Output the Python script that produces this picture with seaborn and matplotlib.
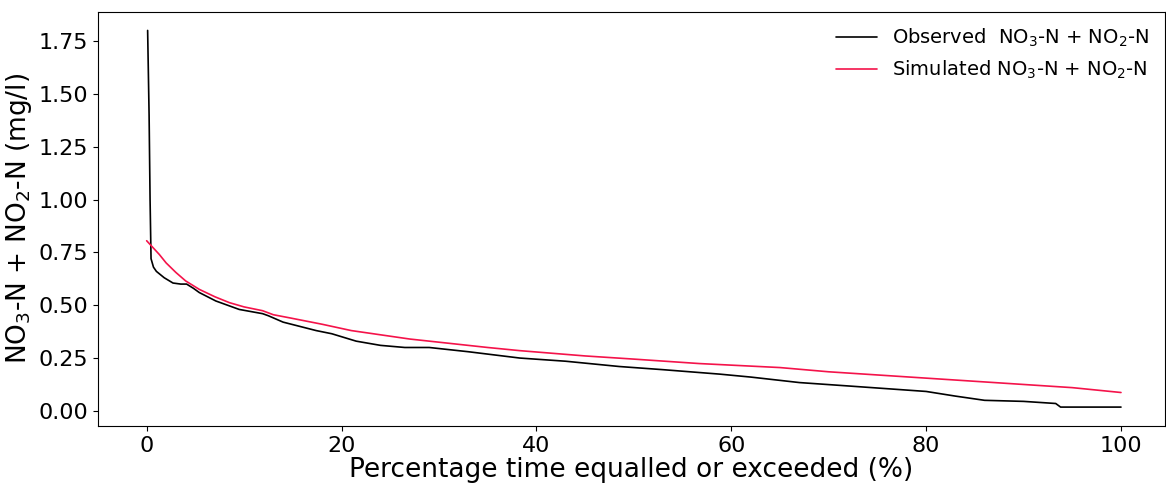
import pandas as pd
import seaborn as sns
from matplotlib import pyplot as plt

OUT_PATH = "out.png"

# flow-duration style curves
obs_pct = [0.1, 0.25, 0.35, 0.45, 0.7, 1.0, 1.8, 2.7, 3.5, 4.1, 4.8, 5.4, 7.1,
           9.5, 11.9, 12.5, 14.0, 17.4, 19.0, 21.5, 24.0, 26.5, 29.0, 33.0,
           38.3, 43.0, 48.5, 53.0, 58.8, 62.0, 67.0, 72.0, 76.0, 80.0, 83.0,
           86.0, 90.0, 93.3, 93.8, 100.0]
obs_conc = [1.80, 1.40, 1.00, 0.72, 0.68, 0.66, 0.63, 0.605, 0.60, 0.60, 0.58,
            0.56, 0.52, 0.48, 0.46, 0.45, 0.42, 0.38, 0.365, 0.33, 0.31, 0.30,
            0.30, 0.28, 0.25, 0.235, 0.21, 0.195, 0.174, 0.16, 0.134, 0.118,
            0.105, 0.092, 0.07, 0.05, 0.045, 0.035, 0.018, 0.018]

sim_pct = [0.0, 0.5, 1.3, 2.0, 3.0, 4.0, 5.4, 7.0, 8.5, 10.0, 11.9, 13.0, 14.7,
           18.0, 21.0, 24.0, 27.0, 31.0, 35.0, 38.3, 45.0, 50.0, 56.7, 65.0,
           70.0, 75.0, 80.0, 85.0, 90.0, 95.0, 100.0]
sim_conc = [0.805, 0.78, 0.74, 0.70, 0.655, 0.615, 0.575, 0.54, 0.512, 0.492,
            0.474, 0.455, 0.44, 0.41, 0.38, 0.36, 0.34, 0.32, 0.30, 0.285, 0.26,
            0.245, 0.224, 0.205, 0.185, 0.17, 0.155, 0.14, 0.125, 0.11, 0.087]

OBS_LABEL = "Observed  NO$_3$-N + NO$_2$-N"
SIM_LABEL = "Simulated NO$_3$-N + NO$_2$-N"


def main():
    sns.set_style("ticks")
    plt.rcParams["font.family"] = ["DejaVu Sans"]
    for key in ["text.color", "axes.labelcolor", "xtick.color", "ytick.color",
                "axes.edgecolor"]:
        plt.rcParams[key] = "black"

    obs = pd.DataFrame({"pct": obs_pct, "conc": obs_conc})
    sim = pd.DataFrame({"pct": sim_pct, "conc": sim_conc})

    fig = plt.figure(figsize=(11.66, 4.84), dpi=100)
    ax = fig.add_axes([0.084, 0.12, 0.915, 0.856])

    sns.lineplot(data=obs, x="pct", y="conc", sort=False, estimator=None,
                 color="black", linewidth=1.2, label=OBS_LABEL, ax=ax)
    sns.lineplot(data=sim, x="pct", y="conc", sort=False, estimator=None,
                 color="#f4134a", linewidth=1.2, label=SIM_LABEL, ax=ax)

    ax.set_xlim(-5, 104.5)
    ax.set_xticks([0, 20, 40, 60, 80, 100])
    ax.set_yticks([0.0, 0.25, 0.5, 0.75, 1.0, 1.25, 1.5, 1.75])
    ax.tick_params(labelsize=16)
    ax.set_xlabel("Percentage time equalled or exceeded (%)", fontsize=19,
                  labelpad=1)
    ax.set_ylabel("NO$_3$-N + NO$_2$-N (mg/l)", fontsize=19, labelpad=3)
    ax.legend(loc="upper right", frameon=False, fontsize=14,
              handlelength=2.1, borderaxespad=0.4)

    fig.savefig(OUT_PATH, dpi=100)


if __name__ == "__main__":
    main()
